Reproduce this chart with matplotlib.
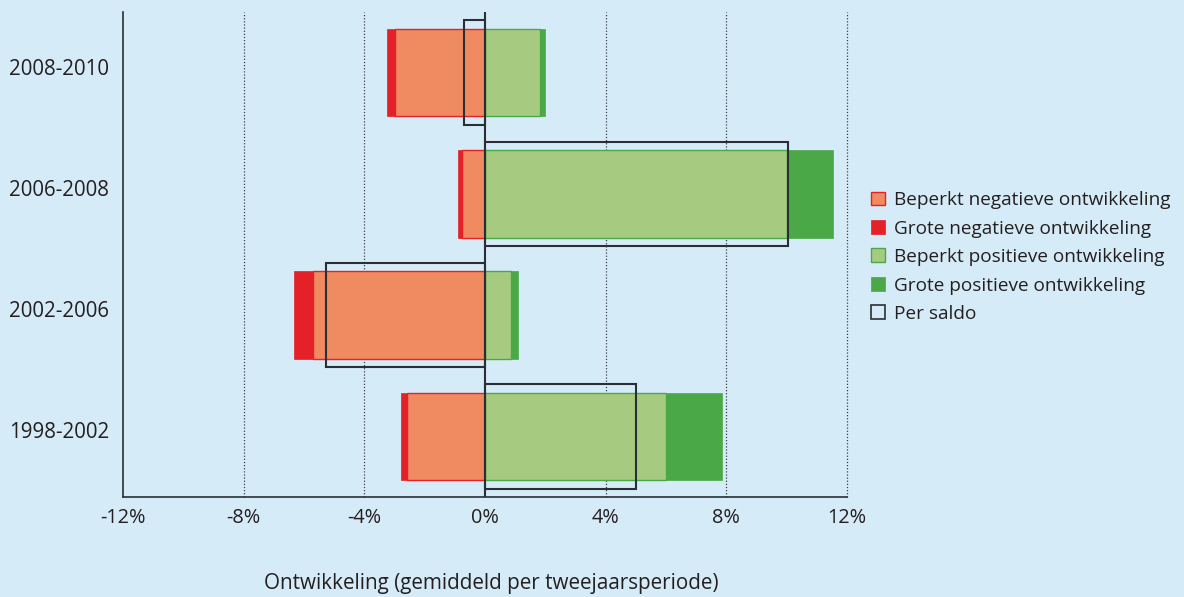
import matplotlib
matplotlib.use("Agg")
import matplotlib.pyplot as plt
from matplotlib.patches import Patch
from matplotlib.transforms import ScaledTranslation
import numpy as np

periods = ["1998-2002", "2002-2006", "2006-2008", "2008-2010"]
beperkt_neg = [-2.59, -5.70, -0.76, -2.97]
groot_neg = [-0.19, -0.62, -0.15, -0.28]
beperkt_pos = [6.01, 0.87, 10.0, 1.83]
groot_pos = [1.83, 0.22, 1.55, 0.17]
saldo = [5.02, -5.28, 10.03, -0.71]
xticks = [-12, -8, -4, 0, 4, 8, 12]
xticklabels = ["-12%", "-8%", "-4%", "0%", "4%", "8%", "12%"]
legend_labels = ["Beperkt negatieve ontwikkeling", "Grote negatieve ontwikkeling",
                 "Beperkt positieve ontwikkeling", "Grote positieve ontwikkeling", "Per saldo"]

bg = "#D6EBF8"
c_lneg = "#F08A60"
c_dneg = "#E42128"
c_lpos = "#A6CB80"
c_dpos = "#4BA846"
c_box = "#2A2F36"
txt = "#231F20"

plt.rcParams['font.family'] = ['Open Sans', 'DejaVu Sans']

fig = plt.figure(figsize=(11.84, 5.97), dpi=100, facecolor=bg)
ax = fig.add_axes([123/1184, 1-497/597, (847-123)/1184, (497-12)/597])
ax.set_facecolor(bg)

y = np.arange(len(periods))
h = 0.72
hs = 0.86

ax.barh(y, beperkt_neg, height=h, color=c_lneg, edgecolor=c_dneg, linewidth=1.0, zorder=2)
ax.barh(y, groot_neg, left=beperkt_neg, height=h, color=c_dneg, edgecolor=c_dneg, linewidth=0.5, zorder=2)
ax.barh(y, beperkt_pos, height=h, color=c_lpos, edgecolor=c_dpos, linewidth=1.0, zorder=2)
ax.barh(y, groot_pos, left=beperkt_pos, height=h, color=c_dpos, edgecolor=c_dpos, linewidth=0.5, zorder=2)
ax.barh(y, saldo, height=hs, fill=False, edgecolor=c_box, linewidth=1.5, zorder=3)

ax.axvline(0, color=c_box, linewidth=1.5, zorder=4)
for xv in [-8, -4, 4, 8, 12]:
    ax.axvline(xv, color="#3A3F46", linewidth=0.9, linestyle=(0, (1, 1.5)), zorder=1, clip_on=False)

ax.set_xlim(-12, 12)
ax.set_ylim(-0.5, 3.5)
ax.set_xticks(xticks)
ax.set_xticklabels(xticklabels, fontsize=14.3, color=txt)
ax.set_yticks(y)
ax.set_yticklabels(periods, fontsize=14.8, color=txt)
ax.tick_params(axis='both', length=0, pad=8)
ax.tick_params(axis='y', pad=10)
offset = ScaledTranslation(0, 6/100, fig.dpi_scale_trans)
for lab in ax.get_yticklabels():
    lab.set_transform(lab.get_transform() + offset)
for s in ["top", "right"]:
    ax.spines[s].set_visible(False)
for s in ["left", "bottom"]:
    ax.spines[s].set_color(c_box)
    ax.spines[s].set_linewidth(1.2)

fig.text(491/1184, 1-583/597, "Ontwikkeling (gemiddeld per tweejaarsperiode)",
         ha="center", va="center", fontsize=14.9, color=txt)

handles = [
    Patch(facecolor=c_lneg, edgecolor=c_dneg, linewidth=1.0),
    Patch(facecolor=c_dneg, edgecolor=c_dneg, linewidth=0.5),
    Patch(facecolor=c_lpos, edgecolor=c_dpos, linewidth=1.0),
    Patch(facecolor=c_dpos, edgecolor=c_dpos, linewidth=0.5),
    Patch(facecolor="none", edgecolor=c_box, linewidth=1.2),
]
leg = fig.legend(handles, legend_labels, loc="upper left",
                 bbox_to_anchor=(854/1184, 1-174/597), frameon=False,
                 fontsize=13.7, handlelength=0.75, handleheight=0.75,
                 handletextpad=0.45, labelspacing=0.55, labelcolor=txt)

fig.savefig("out.png", dpi=100, facecolor=bg)
